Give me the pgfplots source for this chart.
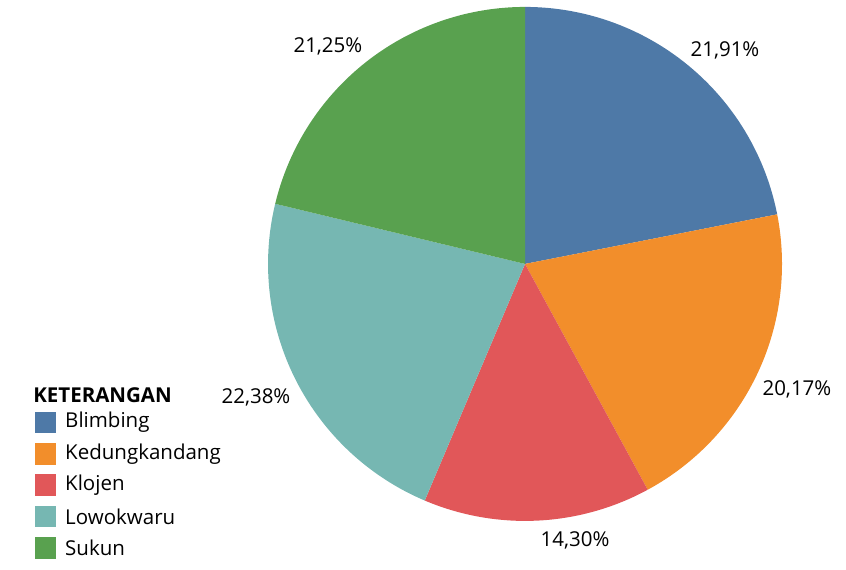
\documentclass[border=0pt]{standalone}
\usepackage{pgfplots}
\pgfplotsset{compat=1.18}
\usepackage{fontspec}
\setmainfont{Open Sans}
\definecolor{cBl}{HTML}{4E79A7}
\definecolor{cKe}{HTML}{F28E2B}
\definecolor{cKl}{HTML}{E15759}
\definecolor{cLo}{HTML}{76B7B2}
\definecolor{cSu}{HTML}{59A14F}
% shares: 21.91, 20.17, 14.30, 22.38, 21.25 (clockwise from top)
\begin{document}
\begin{tikzpicture}
\begin{axis}[
  width=846bp, height=570bp, scale only axis,
  xmin=-2.043, xmax=1.249, ymin=-1.191, ymax=1.027,
  hide axis, clip=false,
  font=\fontsize{20.5bp}{24bp}\selectfont,
]
\path (rel axis cs:0,0) rectangle (rel axis cs:1,1);
% Blimbing 21.91
\addplot[fill=cBl, draw=none, domain=11.124:90, samples=80, variable=\t] ({cos(\t)},{sin(\t)}) -- (axis cs:0,0) -- cycle;
% Kedungkandang 20.17
\addplot[fill=cKe, draw=none, domain=-61.488:11.124, samples=80, variable=\t] ({cos(\t)},{sin(\t)}) -- (axis cs:0,0) -- cycle;
% Klojen 14.30
\addplot[fill=cKl, draw=none, domain=-112.968:-61.488, samples=60, variable=\t] ({cos(\t)},{sin(\t)}) -- (axis cs:0,0) -- cycle;
% Lowokwaru 22.38
\addplot[fill=cLo, draw=none, domain=-193.536:-112.968, samples=80, variable=\t] ({cos(\t)},{sin(\t)}) -- (axis cs:0,0) -- cycle;
% Sukun 21.25
\addplot[fill=cSu, draw=none, domain=-270:-193.536, samples=80, variable=\t] ({cos(\t)},{sin(\t)}) -- (axis cs:0,0) -- cycle;

\node at (axis cs:0.778,0.829) {21,91\%};
\node at (axis cs:1.058,-0.490) {20,17\%};
\node at (axis cs:0.195,-1.074) {14,30\%};
\node at (axis cs:-1.047,-0.518) {22,38\%};
\node at (axis cs:-0.767,0.848) {21,25\%};

% legend
\node[anchor=west, inner sep=0pt, font=\fontsize{20.5bp}{24bp}\selectfont\bfseries] at (axis cs:-1.914,-0.510) {KETERANGAN};
\fill[cBl] (axis cs:-1.907,-0.659) rectangle ++(21.5bp,21.5bp);
\node[anchor=west, inner sep=0pt] at (axis cs:-1.790,-0.617) {Blimbing};
\fill[cKe] (axis cs:-1.907,-0.781) rectangle ++(21.5bp,21.5bp);
\node[anchor=west, inner sep=0pt] at (axis cs:-1.790,-0.739) {Kedungkandang};
\fill[cKl] (axis cs:-1.907,-0.903) rectangle ++(21.5bp,21.5bp);
\node[anchor=west, inner sep=0pt] at (axis cs:-1.790,-0.861) {Klojen};
\fill[cLo] (axis cs:-1.907,-1.025) rectangle ++(21.5bp,21.5bp);
\node[anchor=west, inner sep=0pt] at (axis cs:-1.790,-0.983) {Lowokwaru};
\fill[cSu] (axis cs:-1.907,-1.147) rectangle ++(21.5bp,21.5bp);
\node[anchor=west, inner sep=0pt] at (axis cs:-1.790,-1.105) {Sukun};
\end{axis}
\end{tikzpicture}
\end{document}
